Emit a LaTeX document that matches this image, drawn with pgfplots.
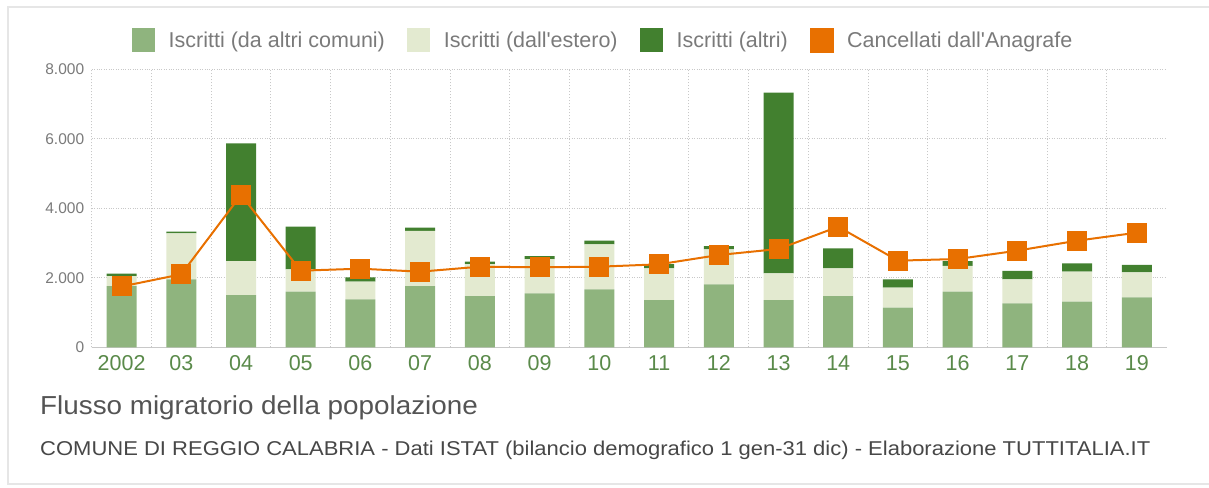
\documentclass[border=0pt]{standalone}
\usepackage{fontspec}
\setmainfont{Liberation Sans}
\usepackage{pgfplots}
\pgfplotsset{compat=1.18}
\definecolor{cA}{HTML}{8FB47E}
\definecolor{cB}{HTML}{E3EAD0}
\definecolor{cC}{HTML}{42802F}
\definecolor{cO}{HTML}{E87000}
\definecolor{tgray}{HTML}{7A7A7A}
\definecolor{xgreen}{HTML}{5A8A4A}
\definecolor{gridc}{HTML}{C8C8C8}
\definecolor{framec}{HTML}{E6E6E6}
\begin{document}
\begin{tikzpicture}[x=1pt,y=1pt]
\useasboundingbox (0,0) rectangle (1209,487);
\draw[framec, line width=2pt] (1212,480) -- (7.5,480) -- (7.5,3.5) -- (1212,3.5);
\begin{axis}[
  at={(91.7pt,139.7pt)}, anchor=south west, scale only axis,
  width=1075pt, height=278pt,
  xmin=-0.5, xmax=17.5, ymin=0, ymax=8000,
  ybar stacked, bar width=30pt,
  xtick={0,...,17},
  xticklabels={2002,03,04,05,06,07,08,09,10,11,12,13,14,15,16,17,18,19},
  minor xtick={-0.5,0.5,...,16.5},
  ytick={0,2000,4000,6000,8000},
  scaled y ticks=false,
  /pgf/number format/fixed,
  /pgf/number format/1000 sep={.},
  /pgf/number format/assume math mode=true,
  yticklabel style={font=\fontsize{15.5}{19}\selectfont, text=tgray, xshift=-4pt},
  xticklabel style={font=\fontsize{21.5}{25}\selectfont, text=xgreen, yshift=-5pt},
  major tick length=0pt, minor tick length=0pt,
  xminorgrids, ymajorgrids,
  grid style={gridc, dotted, line width=1pt},
  minor grid style={gridc, dotted, line width=1pt},
  axis x line*=bottom, axis y line*=left,
  x axis line style={draw=gridc, line width=1.2pt},
  y axis line style={draw=gridc, dotted, line width=1pt},
  legend columns=4,
  legend style={at={(0.0372,1.105)}, anchor=west, draw=none, fill=none,
    inner sep=0pt, outer sep=0pt,
    nodes={inner sep=0pt, text=tgray, font=\fontsize{21.5}{25}\selectfont},
    /tikz/every odd column/.append style={column sep=14pt},
    /tikz/every even column/.append style={column sep=22pt}},
]
\addplot[fill=cA, draw=none, legend image code/.code={\fill[cA] (0pt,-12pt) rectangle (23pt,12pt);}] coordinates {
(0,1760) (1,1957) (2,1505) (3,1600) (4,1381) (5,1764) (6,1476) (7,1553) (8,1669)
(9,1361) (10,1813) (11,1361) (12,1476) (13,1140) (14,1600) (15,1266) (16,1313) (17,1438)};
\addlegendentry{Iscritti (da altri comuni)}
\addplot[fill=cB, draw=none, legend image code/.code={\fill[cB] (0pt,-12pt) rectangle (23pt,12pt);}] coordinates {
(0,290) (1,1323) (2,978) (3,644) (4,507) (5,1583) (6,921) (7,988) (8,1295)
(9,912) (10,1007) (11,768) (12,797) (13,576) (14,740) (15,691) (16,864) (17,720)};
\addlegendentry{Iscritti (dall\textquotesingle estero)}
\addplot[fill=cC, draw=none, legend image code/.code={\fill[cC] (0pt,-12pt) rectangle (23pt,12pt);}] coordinates {
(0,70) (1,50) (2,3387) (3,1226) (4,126) (5,95) (6,67) (7,86) (8,104)
(9,124) (10,95) (11,5198) (12,576) (13,241) (14,143) (15,239) (16,240) (17,211)};
\addlegendentry{Iscritti (altri)}
\addlegendimage{legend image code/.code={\fill[cO] (0pt,-12pt) rectangle (23pt,12pt);}}
\addlegendentry{Cancellati dall\textquotesingle Anagrafe}
\end{axis}
\begin{axis}[
  at={(91.7pt,139.7pt)}, anchor=south west, scale only axis,
  width=1075pt, height=278pt,
  xmin=-0.5, xmax=17.5, ymin=0, ymax=8000,
  hide axis, clip=false,
]
\addplot[cO, line width=2pt, mark=square*, mark size=9.5pt, mark options={fill=cO, draw=cO, line width=0pt}] coordinates {
(0,1750) (1,2100) (2,4383) (3,2205) (4,2262) (5,2176) (6,2320) (7,2302) (8,2320)
(9,2388) (10,2656) (11,2829) (12,3470) (13,2493) (14,2541) (15,2781) (16,3068) (17,3298)};
\end{axis}
\node[anchor=base west, text=black!67, font=\fontsize{26}{30}\selectfont, inner sep=0pt, xscale=1.07] at (40,72) {Flusso migratorio della popolazione};
\node[anchor=base west, text=black!72, font=\fontsize{20}{24}\selectfont, inner sep=0pt, xscale=1.1] at (40,31) {COMUNE DI REGGIO CALABRIA - Dati ISTAT (bilancio demografico 1 gen-31 dic) - Elaborazione TUTTITALIA.IT};
\end{tikzpicture}
\end{document}
